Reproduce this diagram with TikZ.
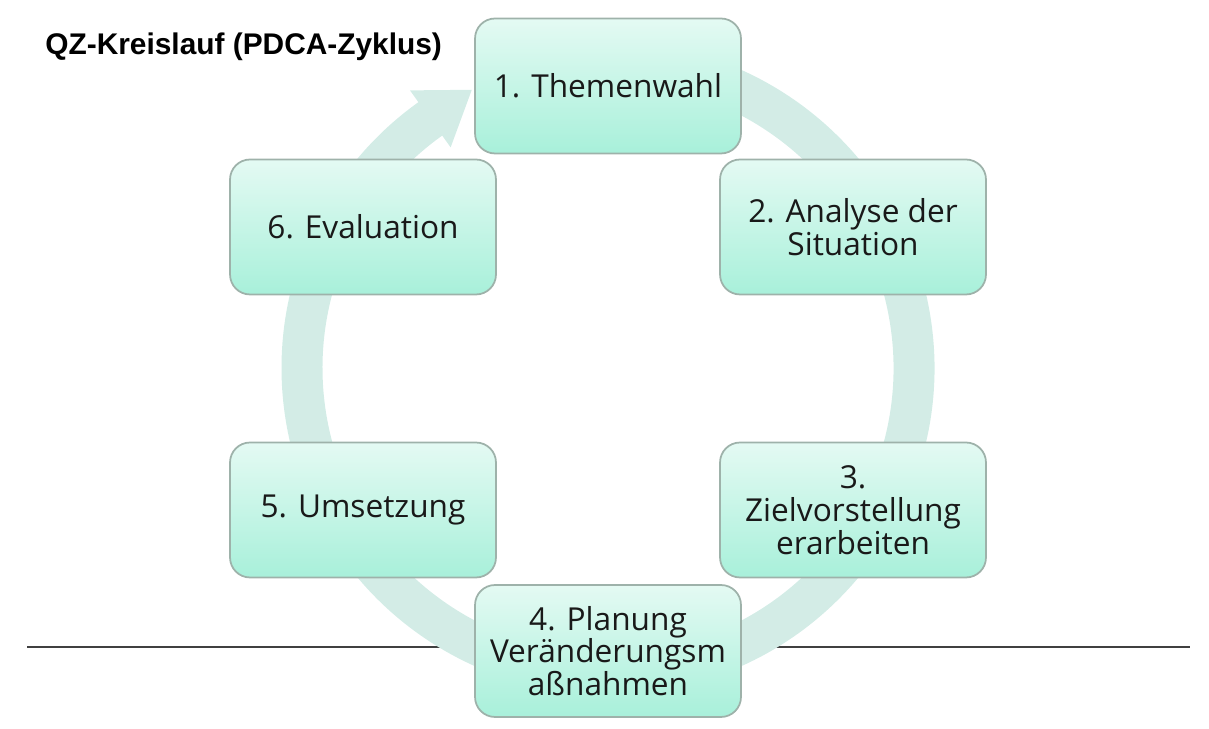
\documentclass[tikz,border=0pt]{standalone}
\usepackage{fontspec}
\setmainfont{Open Sans}
\newfontfamily\titlefont{Liberation Sans}
\usetikzlibrary{calc}

\definecolor{ringgreen}{RGB}{211,236,230}
\definecolor{boxtop}{RGB}{228,250,243}
\definecolor{boxbottom}{RGB}{168,240,218}
\definecolor{boxline}{RGB}{158,178,170}

\tikzset{
	stagebox/.style={rectangle, rounded corners=0.4cm, draw=boxline, line width=1pt,
		top color=boxtop, bottom color=boxbottom, minimum width=5.32cm, minimum height=2.7cm,
		align=center, inner sep=0pt, text=black!90, font=\fontsize{18}{18.7}\selectfont}
}

\begin{document}
\begin{tikzpicture}[x=0.02cm, y=0.02cm]
	\useasboundingbox (0,0) rectangle (1209,729);
	\coordinate (M) at (608,361);
	\coordinate (lineL) at (27,82);
	\coordinate (lineR) at (1190,82);

	\draw [line width=0.85pt, black!75] (lineL) -- (lineR);
	\draw [ringgreen, line width=0.82cm] ($(M)+(100:306)$) arc (100:-235:306);
	\fill [ringgreen] ($(M)+(125.5:341)$) -- ($(M)+(125:306)+(35:48)$) -- ($(M)+(125.5:271)$) -- cycle;

	\node [stagebox] (s1) at (608,643) {1. Themenwahl};
	\node [stagebox] (s2) at (853,502) {2. Analyse der\\Situation};
	\node [stagebox] (s3) at (853,219) {3.\\Zielvorstellung\\erarbeiten};
	\node [stagebox, minimum height=2.64cm] (s4) at (608,78) {4. Planung\\Veränderungsm\\aßnahmen};
	\node [stagebox] (s5) at (363,219) {5. Umsetzung};
	\node [stagebox] (s6) at (363,502) {6. Evaluation};
	\node [anchor=base west, inner sep=0pt, font=\titlefont\bfseries\fontsize{17}{20}\selectfont] (title) at (45,674) {QZ-Kreislauf (PDCA-Zyklus)};
\end{tikzpicture}
\end{document}
